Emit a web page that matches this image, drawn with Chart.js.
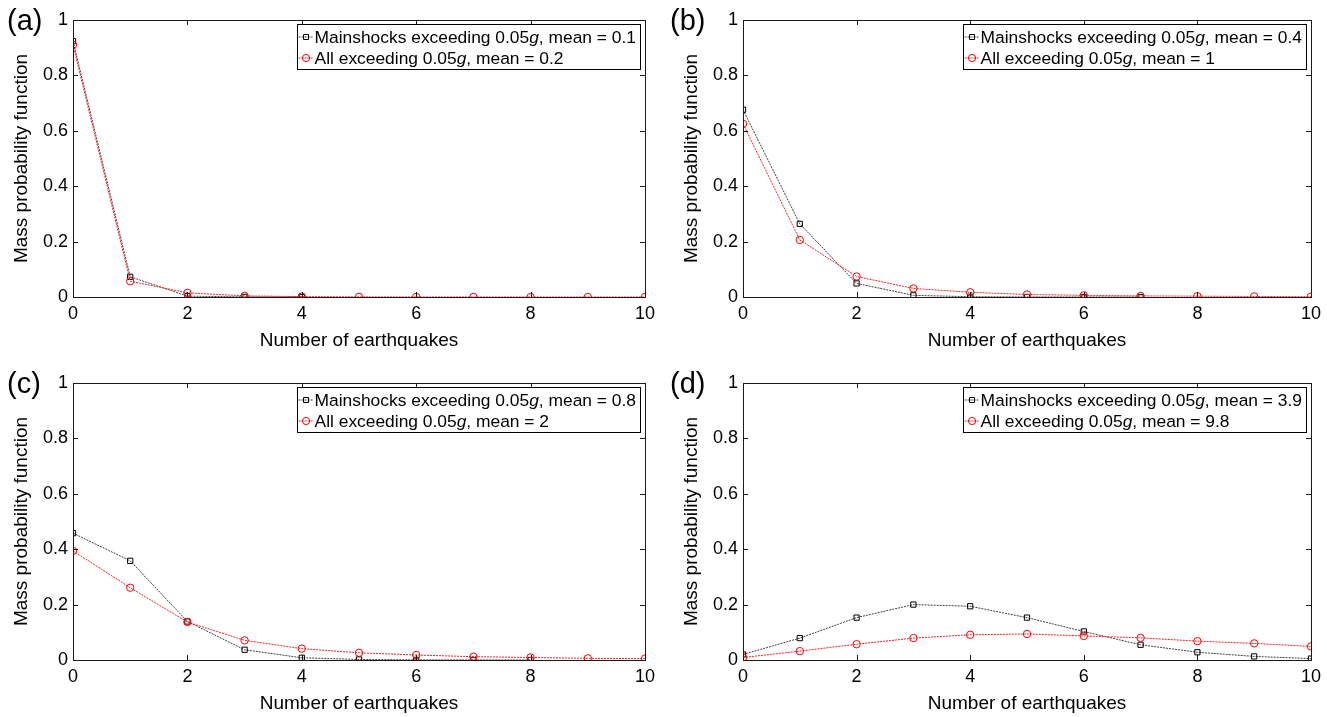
<!DOCTYPE html>
<html>
<head>
<meta charset="utf-8">
<script src="https://cdn.jsdelivr.net/npm/chart.js@4.4.1/dist/chart.umd.min.js"></script>
<style>
body { margin: 0; background: #fff; width: 1327px; height: 717px; overflow: hidden; position: relative; }
canvas { position: absolute; }
</style>
</head>
<body>
<canvas id="pa" width="663" height="358" style="left:0;top:0"></canvas>
<canvas id="pb" width="664" height="358" style="left:663px;top:0"></canvas>
<canvas id="pc" width="663" height="357" style="left:0;top:360px"></canvas>
<canvas id="pd" width="664" height="357" style="left:663px;top:360px"></canvas>
<script>
// number of earthquakes (x) and tick labels
const counts = [0, 1, 2, 3, 4, 5, 6, 7, 8, 9, 10];
const xTicks = [0, 2, 4, 6, 8, 10];
const yTicks = [0, 0.2, 0.4, 0.6, 0.8, 1];

// (a)
const mainA = [0.924, 0.073, 0.003, 0.0005, 0.0002];
const allA = [0.910, 0.057, 0.015, 0.004, 0.0015, 0.0005, 0.0002, 0.0001, 0, 0, 0];
// (b)
const mainB = [0.676, 0.264, 0.049, 0.006, 0.001, 0.0002, 0.0001, 0];
const allB = [0.625, 0.206, 0.074, 0.031, 0.017, 0.009, 0.006, 0.004, 0.003, 0.002, 0.001];
// (c)
const mainC = [0.458, 0.358, 0.139, 0.037, 0.008, 0.002, 0.0005, 0.0002, 0.0001];
const allC = [0.394, 0.261, 0.137, 0.071, 0.041, 0.026, 0.018, 0.012, 0.009, 0.006, 0.005];
// (d)
const mainD = [0.020, 0.079, 0.153, 0.200, 0.194, 0.153, 0.103, 0.055, 0.028, 0.013, 0.005];
const allD = [0.009, 0.032, 0.057, 0.079, 0.091, 0.094, 0.087, 0.080, 0.068, 0.060, 0.049];

const means = {
    a: ['0.1', '0.2'],
    b: ['0.4', '1'],
    c: ['0.8', '2'],
    d: ['3.9', '9.8']
};

const FONT = "'Liberation Sans', Arial, sans-serif";
const TITLE_SIZE = 19;
const TICK_SIZE = 18;
const LEG_SIZE = 17.4;

function toPoints(vals) {
    return vals.map((v, i) => ({ x: counts[i], y: v }));
}

// box round the plot with inward ticks, legend and panel letter
const framePlugin = {
    id: 'frame',
    afterDatasetsDraw(chart) {
        const { ctx, chartArea: a, scales } = chart;
        ctx.save();
        ctx.strokeStyle = '#1a1a1a';
        ctx.lineWidth = 1;
        ctx.strokeRect(Math.round(a.left) + 0.5, Math.round(a.top) + 0.5,
            Math.round(a.right - a.left), Math.round(a.bottom - a.top));
        ctx.beginPath();
        xTicks.forEach(v => {
            const x = Math.round(scales.x.getPixelForValue(v)) + 0.5;
            ctx.moveTo(x, a.bottom); ctx.lineTo(x, a.bottom - 5);
            ctx.moveTo(x, a.top); ctx.lineTo(x, a.top + 5);
        });
        yTicks.forEach(v => {
            const y = Math.round(scales.y.getPixelForValue(v)) + 0.5;
            ctx.moveTo(a.left, y); ctx.lineTo(a.left + 5, y);
            ctx.moveTo(a.right, y); ctx.lineTo(a.right - 5, y);
        });
        ctx.stroke();
        ctx.restore();
    },
    afterDraw(chart, args, opts) {
        const { ctx, chartArea: a } = chart;
        ctx.save();
        // panel letter
        ctx.fillStyle = '#000';
        ctx.font = '29px ' + FONT;
        ctx.textBaseline = 'alphabetic';
        ctx.textAlign = 'left';
        ctx.fillText('(' + opts.letter + ')', opts.letterX, a.top + 10);

        // legend
        const rows = [
            ['Mainshocks exceeding 0.05', ', mean = ' + opts.means[0]],
            ['All exceeding 0.05', ', mean = ' + opts.means[1]]
        ];
        const normal = LEG_SIZE + 'px ' + FONT;
        const italic = 'italic ' + LEG_SIZE + 'px ' + FONT;
        const widths = rows.map(r => {
            ctx.font = normal;
            let w = ctx.measureText(r[0]).width + ctx.measureText(r[1]).width;
            ctx.font = italic;
            return w + ctx.measureText('g').width;
        });
        const boxW = 18 + Math.max(...widths) + 4;
        const right = Math.round(a.right) - 5;
        const left = right - boxW;
        const top = Math.round(a.top) + 4;
        ctx.fillStyle = '#fff';
        ctx.fillRect(left, top, boxW, 45);
        ctx.strokeStyle = '#000';
        ctx.lineWidth = 1;
        ctx.strokeRect(Math.round(left) + 0.5, top + 0.5, Math.round(boxW), 45);

        const ds = chart.data.datasets;
        rows.forEach((r, i) => {
            const y = top + 13 + i * 21;
            const d = ds[i];
            ctx.strokeStyle = d.borderColor;
            ctx.setLineDash([2, 1]);
            ctx.beginPath();
            ctx.moveTo(left + 2, y); ctx.lineTo(left + 17, y);
            ctx.stroke();
            ctx.setLineDash([]);
            ctx.strokeStyle = d.pointBorderColor;
            ctx.beginPath();
            if (i === 0) {
                ctx.rect(left + 7, y - 2.5, 5, 5);
            } else {
                ctx.arc(left + 9.5, y, 3.6, 0, Math.PI * 2);
            }
            ctx.stroke();
            ctx.fillStyle = '#000';
            ctx.textBaseline = 'middle';
            let x = left + 18;
            ctx.font = normal;
            ctx.fillText(r[0], x, y + 1);
            x += ctx.measureText(r[0]).width;
            ctx.font = italic;
            ctx.fillText('g', x, y + 1);
            x += ctx.measureText('g').width;
            ctx.font = normal;
            ctx.fillText(r[1], x, y + 1);
        });
        ctx.restore();
    }
};

function makePanel(id, letter, mainVals, allVals, opt) {
    const half = TITLE_SIZE * 1.2 / 2;
    return new Chart(document.getElementById(id), {
        type: 'line',
        data: {
            datasets: [{
                label: 'Mainshocks exceeding 0.05g, mean = ' + means[letter][0],
                data: toPoints(mainVals),
                borderColor: '#404040',
                borderWidth: 1,
                borderDash: [2, 1],
                pointStyle: 'rect',
                pointRadius: 3.7,
                pointBorderColor: '#000',
                pointBackgroundColor: 'rgba(0,0,0,0)',
                pointBorderWidth: 1,
                order: 2
            }, {
                label: 'All exceeding 0.05g, mean = ' + means[letter][1],
                data: toPoints(allVals),
                borderColor: '#ff2020',
                borderWidth: 1,
                borderDash: [2, 1],
                pointStyle: 'circle',
                pointRadius: 3.7,
                pointBorderColor: '#ff0000',
                pointBackgroundColor: 'rgba(0,0,0,0)',
                pointBorderWidth: 1,
                order: 1
            }]
        },
        options: {
            responsive: false,
            animation: false,
            devicePixelRatio: 1,
            layout: { padding: { top: opt.padTop, right: opt.padRight, left: 0, bottom: 0 } },
            plugins: {
                legend: { display: false },
                tooltip: { enabled: false },
                frame: { letter: letter, means: means[letter], letterX: 7 }
            },
            scales: {
                x: {
                    type: 'linear',
                    min: 0, max: 10,
                    afterBuildTicks: s => { s.ticks = xTicks.map(v => ({ value: v })); },
                    afterFit: s => { s.height = opt.xHeight; },
                    grid: { display: false, drawTicks: false },
                    border: { display: false },
                    ticks: { color: '#000', font: { family: FONT, size: TICK_SIZE }, padding: 6, maxRotation: 0 },
                    title: {
                        display: true, text: 'Number of earthquakes', color: '#000',
                        font: { family: FONT, size: TITLE_SIZE },
                        padding: { top: 0, bottom: opt.xHeight - opt.xTitleOff - half }
                    }
                },
                y: {
                    min: 0, max: 1,
                    afterBuildTicks: s => { s.ticks = yTicks.map(v => ({ value: v })); },
                    afterFit: s => { s.width = opt.yWidth; },
                    grid: { display: false, drawTicks: false },
                    border: { display: false },
                    ticks: { color: '#000', font: { family: FONT, size: TICK_SIZE }, padding: 5,
                        callback: v => String(Math.round(v * 10) / 10) },
                    title: {
                        display: true, text: 'Mass probability function', color: '#000',
                        font: { family: FONT, size: TITLE_SIZE },
                        padding: { top: opt.yWidth - 51 - half, bottom: 0 }
                    }
                }
            }
        },
        plugins: [framePlugin]
    });
}

// xTitleOff: distance of the x title centre below the axis line
makePanel('pa', 'a', mainA, allA, { padTop: 20, padRight: 18, xHeight: 61, yWidth: 73, xTitleOff: 44 });
makePanel('pb', 'b', mainB, allB, { padTop: 20, padRight: 14, xHeight: 61, yWidth: 80, xTitleOff: 44 });
makePanel('pc', 'c', mainC, allC, { padTop: 23, padRight: 18, xHeight: 57, yWidth: 73, xTitleOff: 44 });
makePanel('pd', 'd', mainD, allD, { padTop: 23, padRight: 14, xHeight: 57, yWidth: 80, xTitleOff: 44 });
</script>
</body>
</html>
